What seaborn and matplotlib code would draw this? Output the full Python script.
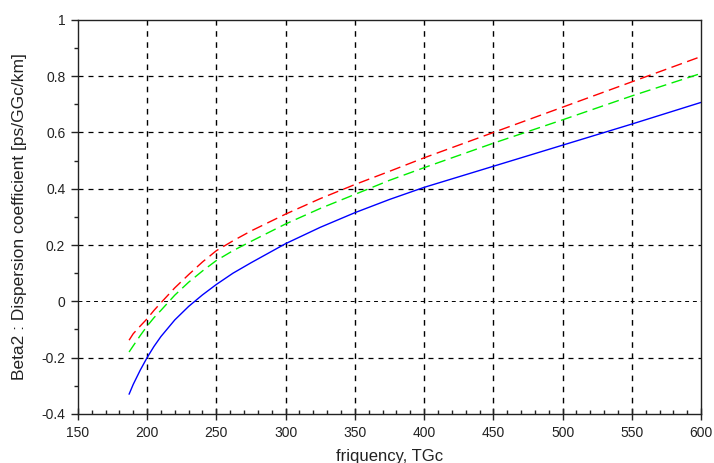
import numpy as np
import pandas as pd
import matplotlib
matplotlib.use("Agg")
import matplotlib.pyplot as plt
import seaborn as sns
from matplotlib.ticker import MultipleLocator

# frequency grid (TGc) and dispersion coefficient for three fibres
freq = [187, 190, 195, 200, 205, 210, 220, 230, 240, 250, 262, 275, 300, 325, 350, 375, 400, 450, 500, 550, 600]
beta_blue = [-0.33, -0.295, -0.245, -0.20, -0.16, -0.125, -0.066, -0.018, 0.023, 0.06, 0.10, 0.137, 0.205,
             0.263, 0.315, 0.362, 0.405, 0.48, 0.555, 0.63, 0.707]
beta_red = [-0.138, -0.115, -0.088, -0.062, -0.032, -0.005, 0.048, 0.095, 0.14, 0.18, 0.215, 0.25, 0.31,
            0.365, 0.415, 0.462, 0.51, 0.60, 0.69, 0.78, 0.87]
beta_green = [-0.18, -0.158, -0.122, -0.088, -0.058, -0.032, 0.022, 0.068, 0.108, 0.145, 0.18, 0.213, 0.275,
              0.33, 0.38, 0.43, 0.475, 0.562, 0.645, 0.73, 0.81]

x_ticks = [150, 200, 250, 300, 350, 400, 450, 500, 550, 600]
y_ticks = [-0.4, -0.2, 0, 0.2, 0.4, 0.6, 0.8, 1]

sns.set_theme(style="white")
plt.rcParams["font.family"] = ["Liberation Sans", "DejaVu Sans"]

fig = plt.figure(figsize=(7.14, 4.63), dpi=100)
ax = fig.add_axes([0.109, 0.106, 0.873, 0.851])

df = pd.DataFrame({"f": freq, "blue": beta_blue, "red": beta_red, "green": beta_green})

sns.lineplot(data=df, x="f", y="red", ax=ax, color="#ff0000", lw=1.0)
sns.lineplot(data=df, x="f", y="green", ax=ax, color="#00ee00", lw=1.0)
sns.lineplot(data=df, x="f", y="blue", ax=ax, color="#0000ff", lw=1.0)
ax.lines[0].set_dashes([8, 4])
ax.lines[1].set_dashes([8, 4])

ax.set_xlim(150, 600)
ax.set_ylim(-0.4, 1)
ax.set_xticks(x_ticks)
ax.set_xticklabels([str(v) for v in x_ticks])
ax.set_yticks(y_ticks)
ax.set_yticklabels(["-0.4", "-0.2", "0", "0.2", "0.4", "0.6", "0.8", "1"])
ax.xaxis.set_minor_locator(MultipleLocator(10))
ax.yaxis.set_minor_locator(MultipleLocator(0.1))

for v in x_ticks[1:-1]:
    ax.axvline(v, color="black", lw=1.0, dashes=(4, 4), zorder=0)
for v in y_ticks[1:-1]:
    ax.axhline(v, color="black", lw=0.9 if v != 0 else 0.7, dashes=(4, 4), zorder=0)

for s in ax.spines.values():
    s.set_color("#222222")
    s.set_linewidth(1.0)

ax.tick_params(axis="x", which="major", direction="inout", length=8, width=1, colors="#222222",
               labelsize=10, pad=5)
ax.tick_params(axis="x", which="minor", direction="in", length=3, width=1, colors="#222222")
ax.tick_params(axis="y", which="major", direction="out", length=5, width=1, colors="#222222",
               labelsize=10, pad=4)
ax.tick_params(axis="y", which="minor", direction="out", length=3, width=1, colors="#222222")
ax.tick_params(bottom=True, left=True, which="both")

ax.set_xlabel("friquency, TGc", fontsize=12, labelpad=6, color="#222222")
ax.set_ylabel("Beta2 : Dispersion coefficient [ps/GGc/km]", fontsize=12.5, labelpad=10, color="#222222")

fig.savefig("out.png", dpi=100)
